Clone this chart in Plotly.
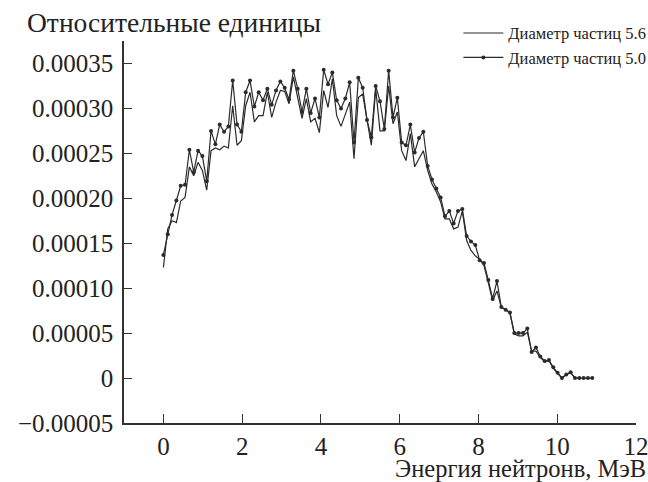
import plotly.graph_objects as go

step = 0.11
# Diameter 5.0 (with markers), units of 1e-4
d50 = [1.37, 1.60, 1.815, 1.975, 2.14, 2.15, 2.54, 2.29, 2.53, 2.47,
       2.19, 2.75, 2.60, 2.82, 2.74, 2.80, 3.31, 2.82, 2.74, 3.18,
       3.31, 3.02, 3.18, 3.09, 3.22, 3.04, 3.20, 3.30, 3.23, 3.10,
       3.42, 3.22, 2.96, 3.22, 2.95, 3.11, 2.90, 3.43, 3.27, 3.40,
       3.09, 3.00, 3.11, 3.29, 2.62, 3.34, 3.23, 2.87, 2.68, 3.25,
       3.08, 2.77, 3.42, 2.90, 3.12, 2.62, 2.59, 2.82, 2.51, 2.67,
       2.74, 2.36, 2.21, 2.11, 2.01, 1.80, 1.86, 1.72, 1.86, 1.88,
       1.58, 1.52, 1.48, 1.31, 1.28, 1.09, 0.88, 1.08, 0.79, 0.76,
       0.73, 0.50, 0.50, 0.50, 0.55, 0.29, 0.34, 0.24, 0.19, 0.20,
       0.12, 0.06, 0.0, 0.04, 0.065, 0.0, 0.0, 0.0, 0.0, 0.0]
# Diameter 5.6 (solid line), units of 1e-4
d56 = [1.23, 1.66, 1.75, 1.73, 1.97, 2.01, 2.35, 2.25, 2.40, 2.31,
       2.09, 2.53, 2.56, 2.54, 2.58, 2.56, 3.03, 2.59, 2.64, 3.03,
       3.18, 2.85, 2.92, 2.92, 3.18, 2.90, 3.07, 3.20, 3.19, 3.05,
       3.35, 3.11, 2.89, 3.11, 2.85, 2.89, 2.73, 3.20, 3.01, 3.33,
       2.92, 2.80, 2.94, 3.07, 2.44, 3.12, 3.16, 2.88, 2.59, 3.22,
       2.75, 2.75, 3.25, 2.83, 2.96, 2.53, 2.42, 2.72, 2.35, 2.44,
       2.53, 2.31, 2.16, 2.07, 1.96, 1.77, 1.77, 1.66, 1.68, 1.86,
       1.53, 1.42, 1.36, 1.32, 1.25, 1.06, 0.86, 0.97, 0.79, 0.76,
       0.72, 0.49, 0.47, 0.47, 0.51, 0.30, 0.30, 0.23, 0.18, 0.19,
       0.11, 0.05, 0.0, 0.04, 0.06, 0.0]

x50 = [round(i * step, 3) for i in range(len(d50))]
x56 = [round(i * step, 3) for i in range(len(d56))]
y50 = [v * 1e-4 for v in d50]
y56 = [v * 1e-4 for v in d56]

ytickvals = [-0.00005, 0, 0.00005, 0.0001, 0.00015, 0.0002, 0.00025, 0.0003, 0.00035]
yticktext = ["\u22120.00005", "0", "0.00005", "0.00010", "0.00015", "0.00020", "0.00025", "0.00030", "0.00035"]
xtickvals = [0, 2, 4, 6, 8, 10, 12]

serif = "Liberation Serif"
col = "#2b2b2b"

fig = go.Figure()
fig.add_trace(go.Scatter(x=x56, y=y56, mode="lines", name="Диаметр частиц 5.6",
                         line=dict(color=col, width=1.2)))
fig.add_trace(go.Scatter(x=x50, y=y50, mode="lines+markers", name="Диаметр частиц 5.0",
                         line=dict(color=col, width=1.2),
                         marker=dict(color=col, size=4)))

fig.update_layout(
    width=648, height=482,
    margin=dict(l=123.5, r=12.3, t=40.7, b=59.3, autoexpand=False),
    paper_bgcolor="white", plot_bgcolor="white",
    font=dict(family=serif, color="#222", size=25),
    showlegend=True,
    legend=dict(x=1.03, y=1.066, xanchor="right", yanchor="top",
                font=dict(family=serif, size=16.5, color="#222"),
                bgcolor="rgba(0,0,0,0)", tracegroupgap=0, itemwidth=40),
    xaxis=dict(range=[-1, 12], tickvals=xtickvals, ticks="inside", ticklen=9,
               tickcolor="#333", showline=True, linecolor="#333", linewidth=1.5,
               showgrid=False, zeroline=False, tickfont=dict(size=25),
               ticklabeloverflow="allow"),
    yaxis=dict(range=[-0.00005, 0.000375], tickvals=ytickvals, ticktext=yticktext,
               ticks="inside", ticklen=8, tickcolor="#333", showline=True,
               linecolor="#333", linewidth=1.5, showgrid=False, zeroline=False,
               tickfont=dict(size=25), ticklabelstandoff=4),
    annotations=[
        dict(text="Относительные единицы", xref="paper", yref="paper",
             x=-0.193, y=1.0, xanchor="left", yanchor="middle", yshift=19,
             showarrow=False, font=dict(family=serif, size=27.5, color="#222")),
        dict(text="Энергия нейтронв, МэВ", xref="paper", yref="paper",
             x=1.024, y=0, xanchor="right", yanchor="middle", yshift=-45,
             showarrow=False, font=dict(family=serif, size=24.5, color="#222")),
    ],
)

fig.write_html("out.html", config={"displayModeBar": False},
               post_script="document.body.style.margin='0';document.body.style.padding='0';")
